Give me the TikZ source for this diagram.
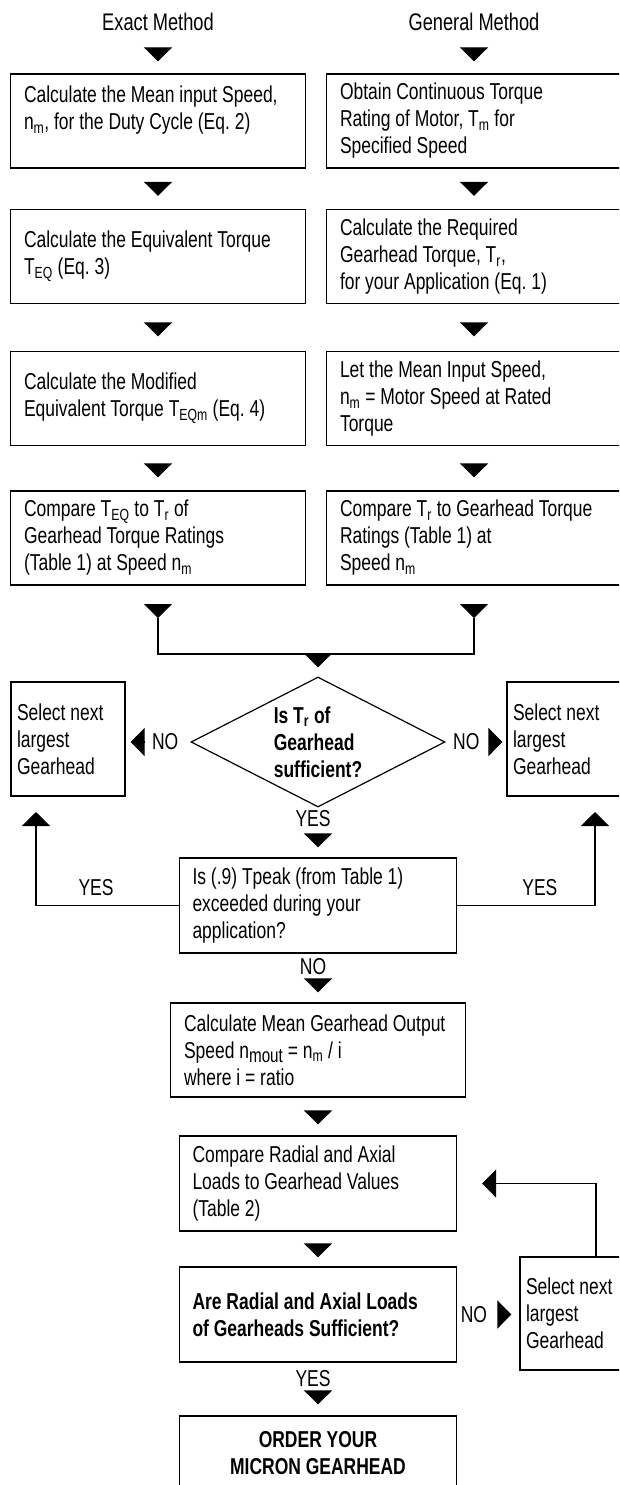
\documentclass[tikz,border=0pt]{standalone}
\usepackage{fontspec}
\setmainfont[FakeStretch=0.76]{Liberation Sans}
\usepackage{tikz}
\usetikzlibrary{shapes.geometric,arrows.meta}
\newcommand{\txt}{\fontsize{23}{27}\selectfont}
\newcommand{\sbs}[1]{\textsubscript{#1}}
\tikzset{
	colbox/.style = {draw, rectangle, align=left, text width=268pt,
		inner xsep=13.5pt, minimum height=94pt},
	midbox/.style = {draw, rectangle, align=left, text width=251pt,
		inner xsep=13pt, minimum height=95pt},
	selbox/.style = {draw, rectangle, align=left, text width=102pt,
		inner xsep=6pt, minimum height=114pt},
	query/.style  = {draw, diamond, aspect=2, inner sep=0pt, align=left,
		minimum width=254pt, minimum height=130pt, font=\txt\bfseries},
	head/.style   = {inner sep=0pt, font=\fontsize{24}{27}\selectfont}, % column titles
	lbl/.style    = {inner sep=0pt}, % YES / NO
	tri/.style    = {-{Triangle[width=28pt,length=14pt]}}
}

\begin{document}
\frenchspacing
\begin{tikzpicture}[font=\txt, line width=1.2pt, x=1pt, y=-1pt,
	every node/.style={execute at begin node={\spaceskip=0pt\xspaceskip=0pt\relax}}]
\useasboundingbox (0,0) rectangle (619,1485);
\clip (0,0) rectangle (619,1485);
\draw
% Drawing the two columns
node at (158,22)[head] (ex) {Exact Method}
node at (474,22)[head] (gen) {General Method}
node at (158,121)[colbox] (L1) {Calculate the Mean input Speed,\\n\sbs{m}, for the Duty Cycle (Eq. 2)\\\mbox{}}
node at (158,256.5)[colbox] (L2) {Calculate the Equivalent Torque\\T\sbs{EQ} (Eq. 3)}
node at (158,398.5)[colbox] (L3) {Calculate the Modified\\Equivalent Torque T\sbs{EQm} (Eq. 4)}
node at (158,538)[colbox] (L4) {Compare T\sbs{EQ} to T\sbs{r} of\\Gearhead Torque Ratings\\(Table 1) at Speed n\sbs{m}}
node at (474,121)[colbox] (R1) {Obtain Continuous Torque\\Rating of Motor, T\sbs{m} for\\Specified Speed}
node at (474,256.5)[colbox] (R2) {Calculate the Required\\Gearhead Torque, T\sbs{r},\\for your Application (Eq. 1)}
node at (474,398.5)[colbox] (R3) {Let the Mean Input Speed,\\n\sbs{m} = Motor Speed at Rated\\Torque}
node at (474,538)[colbox] (R4) {Compare T\sbs{r} to Gearhead Torque\\Ratings (Table 1) at\\Speed n\sbs{m}};

\draw
% Drawing the decision part
node at (318,742)[query] (dia) {Is T\sbs{r} of\\Gearhead\\sufficient?}
node at (68,739)[selbox] (selL) {Select next\\largest\\Gearhead}
node at (564,739)[selbox] (selR) {Select next\\largest\\Gearhead}
node at (318,905.5)[midbox] (Is09) {Is (.9) Tpeak (from Table 1)\\exceeded during your\\application?}
node at (318,1050)[colbox] (mean) {Calculate Mean Gearhead Output\\Speed n\raisebox{-4pt}{\fontsize{20}{20}\selectfont mout} = n\sbs{m} / i\\where i = ratio}
node at (318,1183.5)[midbox] (rad) {Compare Radial and Axial\\Loads to Gearhead Values\\(Table 2)}
node at (318,1314.5)[midbox, font=\txt\bfseries] (load) {Are Radial and Axial Loads\\of Gearheads Sufficient?}
node at (577,1313.5)[selbox, minimum height=113pt] (selB) {Select next\\largest\\Gearhead}
node at (318,1453.5)[midbox, align=flush center, minimum height=75pt, font=\txt\bfseries] (order) {ORDER YOUR\\MICRON GEARHEAD};

\coordinate (jl) at (158,618);
\coordinate (jr) at (474,618);
\coordinate (mg) at (318,654);
\coordinate (upL) at (36,796);
\coordinate (upR) at (595,796);
\coordinate (upB) at (596,1257);

% columns
\draw[tri, shorten <=17pt, shorten >=12pt] (ex) -- (L1);
\draw[tri, shorten <=14pt, shorten >=13pt] (L1) -- (L2);
\draw[tri, shorten <=19pt, shorten >=14.5pt] (L2) -- (L3);
\draw[tri, shorten <=19pt, shorten >=13pt] (L3) -- (L4);
\draw[tri, shorten <=19pt] (L4) -- (jl);
\draw[tri, shorten <=17pt, shorten >=12pt] (gen) -- (R1);
\draw[tri, shorten <=14pt, shorten >=13pt] (R1) -- (R2);
\draw[tri, shorten <=19pt, shorten >=14.5pt] (R2) -- (R3);
\draw[tri, shorten <=19pt, shorten >=13pt] (R3) -- (R4);
\draw[tri, shorten <=19pt] (R4) -- (jr);
\draw (jl) |- (mg) -| (jr);
\draw[tri, shorten >=9pt] (mg) -- (dia);

% decisions
\draw[tri, shorten <=46pt, shorten >=5pt] (dia.west) -- node[lbl, pos=0.39] {NO} (dia.west -| selL.east);
\draw[tri, shorten <=45pt, shorten >=4pt] (dia.east) -- node[lbl, pos=0.34] {NO} (dia.east -| selR.west);
\draw[tri, shorten <=26pt, shorten >=10pt] (dia) -- node[lbl, pos=0.22, xshift=-5pt] {YES} (Is09);
\draw[tri, shorten >=16pt] (Is09) -| node[lbl, pos=0.29, above=9pt] {YES} (upL);
\draw[tri, shorten >=16pt] (Is09) -| node[lbl, pos=0.30, above=9pt] {YES} (upR);
\draw[tri, shorten <=25pt, shorten >=10pt] (Is09) -- node[lbl, pos=0.26, xshift=-5pt] {NO} (mean);
\draw[tri, shorten <=14pt, shorten >=11pt] (mean) -- (rad);
\draw[tri, shorten <=13pt, shorten >=9pt] (rad) -- (load);
\draw[tri, shorten <=41pt, shorten >=8pt] (load.east) -- node[lbl, pos=0.27] {NO} (load.east -| selB.west);
\draw[tri, shorten >=25pt] (upB) |- (rad);
\draw[tri, shorten <=29pt, shorten >=11pt] (load) -- node[lbl, pos=0.30, xshift=-5pt] {YES} (order);
\end{tikzpicture}
\end{document}
